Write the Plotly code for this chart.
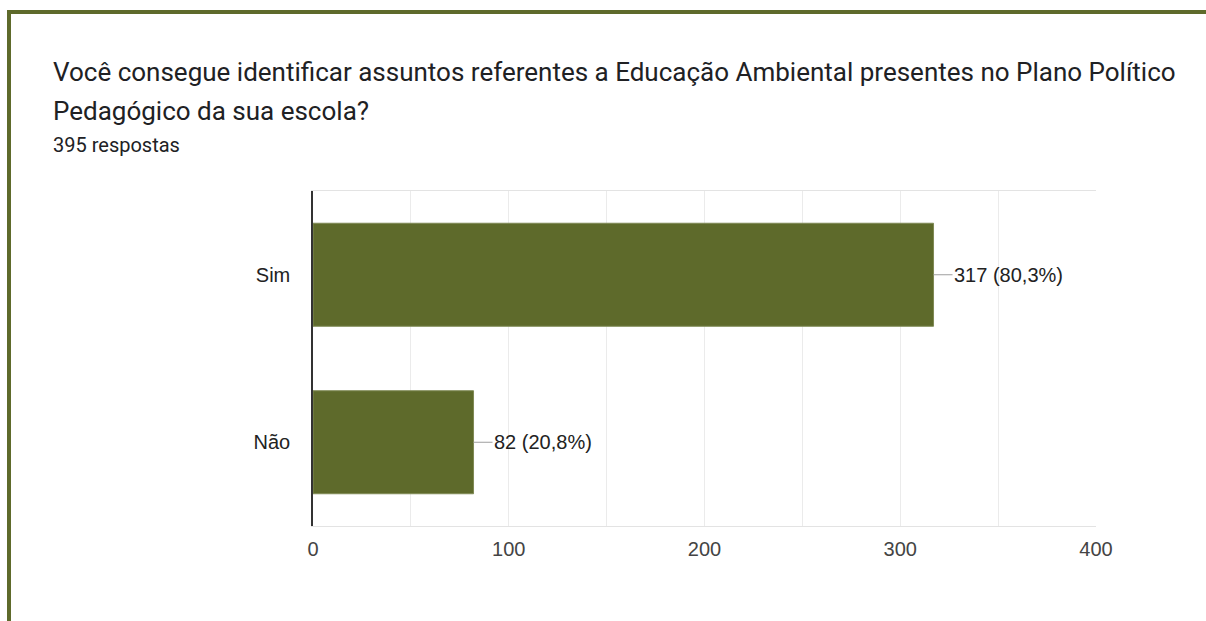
import plotly.graph_objects as go

categories = ["Sim", "Não"]
counts = [317, 82]
percent_labels = ["80,3%", "20,8%"]
x_ticks = [0, 100, 200, 300, 400]
title_line1 = "Você consegue identificar assuntos referentes a Educação Ambiental presentes no Plano Político"
title_line2 = "Pedagógico da sua escola?"
subtitle = "395 respostas"

W, H = 1206, 621
L, R, T, B = 313, 110, 191, 95
PW, PH = W - L - R, H - T - B

def px_x(px):
    return (px - L) / PW

def px_y(py):
    return (H - B - py) / PH

OLIVE = "#5e6a2b"
FONT = "Roboto, Arial, sans-serif"
CHART_FONT = "Liberation Sans, Arial, sans-serif"

fig = go.Figure()
fig.add_trace(go.Bar(
    x=counts, y=categories, orientation="h",
    marker=dict(color=OLIVE, line=dict(color="#7f8a55", width=1)),
    hoverinfo="skip",
))

annotations = []
for c, v, p in zip(categories, counts, percent_labels):
    annotations.append(dict(
        x=v, y=c, xref="x", yref="y",
        text=f"{v} ({p})", showarrow=True, arrowhead=0, arrowwidth=1,
        arrowcolor="#9e9e9e", ax=19, ay=0, xanchor="left", yanchor="middle",
        standoff=0, startstandoff=0, borderpad=0,
        font=dict(family=CHART_FONT, size=20, color="#222222"),
    ))

annotations += [
    dict(x=px_x(51), y=px_y(72), xref="paper", yref="paper", text=title_line1,
         showarrow=False, xanchor="left", yanchor="middle",
         font=dict(family=FONT, size=26, color="#202124")),
    dict(x=px_x(51), y=px_y(111), xref="paper", yref="paper", text=title_line2,
         showarrow=False, xanchor="left", yanchor="middle",
         font=dict(family=FONT, size=26, color="#202124")),
    dict(x=px_x(51), y=px_y(145), xref="paper", yref="paper", text=subtitle,
         showarrow=False, xanchor="left", yanchor="middle",
         font=dict(family=FONT, size=20, color="#202124")),
]

shapes = [
    dict(type="line", xref="paper", yref="paper", x0=px_x(7), x1=px_x(W + 2),
         y0=px_y(12), y1=px_y(12), line=dict(color=OLIVE, width=4), layer="above"),
    dict(type="line", xref="paper", yref="paper", x0=px_x(9), x1=px_x(9),
         y0=px_y(10), y1=px_y(H + 2), line=dict(color=OLIVE, width=4), layer="above"),
]

fig.update_layout(
    width=W, height=H,
    margin=dict(l=L, r=R, t=T, b=B, pad=0),
    paper_bgcolor="white", plot_bgcolor="white",
    showlegend=False, bargap=0.385,
    font=dict(family=FONT),
    annotations=annotations, shapes=shapes,
    xaxis=dict(
        range=[0, 400], tickvals=x_ticks, ticktext=[str(t) for t in x_ticks],
        showgrid=True, gridcolor="#ebebeb", gridwidth=1,
        minor=dict(dtick=50, showgrid=True, gridcolor="#ebebeb", gridwidth=1),
        zeroline=False, showline=True, linecolor="#e3e3e3", linewidth=1, mirror=True,
        ticks="", ticklabelstandoff=5,
        tickfont=dict(family=CHART_FONT, size=20, color="#444444"),
        fixedrange=True,
    ),
    yaxis=dict(
        autorange="reversed", showgrid=False, zeroline=False,
        showline=True, linecolor="#333333", linewidth=1.5,
        ticks="", ticklabelstandoff=17,
        tickfont=dict(family=CHART_FONT, size=20, color="#222222"),
        fixedrange=True,
    ),
)

fig.write_html("out.html")
